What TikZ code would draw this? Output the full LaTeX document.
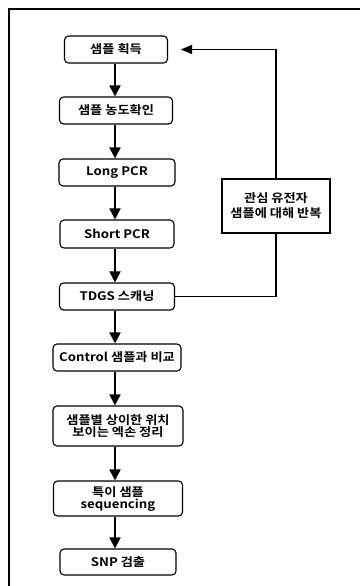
\documentclass[tikz,border=0pt]{standalone}
\usepackage{fontspec}
\setmainfont{Noto Sans CJK KR}[BoldFont={* Bold},FakeStretch=1.12]
\usetikzlibrary{arrows.meta}
\tikzset{
  stepbox/.style={draw, line width=1.1pt, rounded corners=4pt, inner sep=0pt,
    align=center, font=\fontsize{11.8}{12}\selectfont\bfseries},
  loopbox/.style={draw, line width=1.1pt, inner sep=0pt, align=center,
    font=\fontsize{11.8}{15}\selectfont\bfseries},
  flow/.style={line width=1.8pt, -{Triangle[length=11pt,width=11pt]}},
  back/.style={line width=1.4pt},
  frameline/.style={line width=1.2pt}
}
\begin{document}
\begin{tikzpicture}[x=1pt,y=-1pt]
\useasboundingbox (0,0) rectangle (359,586);
% outer frame
\draw[frameline] (9,600) -- (9,9) -- (370,9);

% main steps
\node[stepbox, minimum width=103pt, minimum height=27pt] (s1) at (116,49.5) {샘플 획득};
\node[stepbox, minimum width=113pt, minimum height=27pt] (s2) at (116,110.5) {샘플 농도확인};
\node[stepbox, minimum width=116pt, minimum height=27pt] (s3) at (117,172.5) {Long PCR};
\node[stepbox, minimum width=114pt, minimum height=28pt] (s4) at (117,234) {Short PCR};
\node[stepbox, minimum width=115pt, minimum height=27pt] (s5) at (117,296.5) {TDGS 스캐닝};
\node[stepbox, minimum width=128pt, minimum height=27pt] (s6) at (117,357.5) {Control 샘플과 비교};
\node[stepbox, minimum width=130pt, minimum height=40pt] (s7) at (118,426) {샘플별 상이한 위치\\보이는 엑손 정리};
\node[stepbox, minimum width=129pt, minimum height=35pt] (s8) at (118,498.5) {특이 샘플\\sequencing};
\node[stepbox, minimum width=116pt, minimum height=26pt] (s9) at (118,562) {SNP 검출};

% repeat box
\node[loopbox, minimum width=108pt, minimum height=54pt] (rep) at (276,206) {관심 유전자\\샘플에 대해 반복};

% forward arrows
\foreach \a/\b in {s1/s2,s2/s3,s3/s4,s4/s5,s5/s6,s6/s7,s7/s8,s8/s9}
  \draw[flow] (\a.south -| 115,0) -- (\b.north -| 115,0);

% loop back
\coordinate (ret) at (181,49.5);
\draw[back] (s5.east) -| (rep.south);
\draw[back, -{Triangle[length=11pt,width=9pt]}] (rep.north) |- (ret);
\end{tikzpicture}
\end{document}
